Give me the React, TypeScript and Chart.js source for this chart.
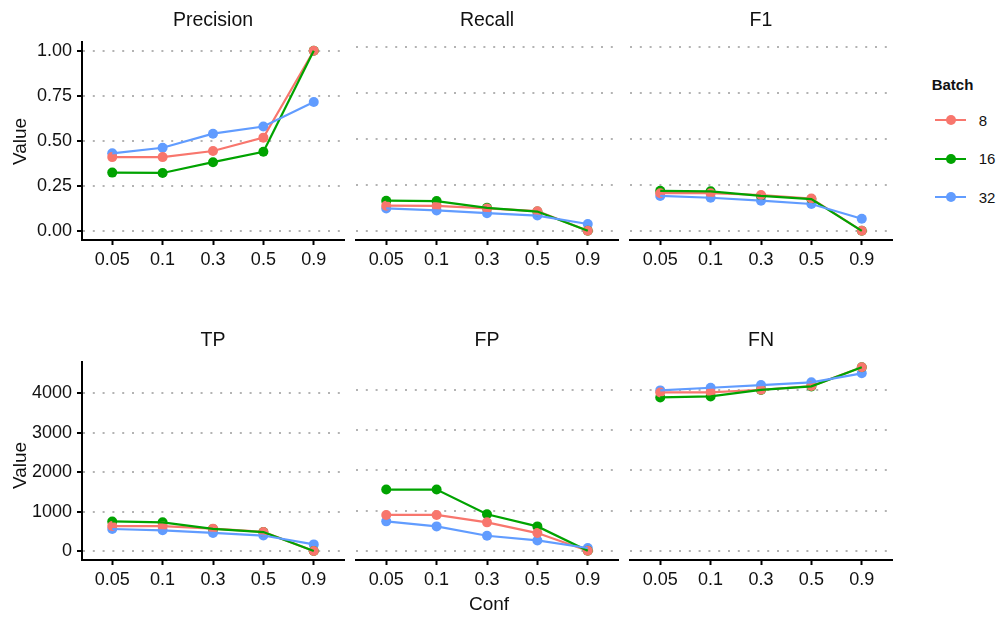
import React, { useEffect, useRef } from "react";
import { Chart, registerables } from "chart.js";
Chart.register(...registerables);

// ---- data ----
const confLabels = ["0.05", "0.1", "0.3", "0.5", "0.9"];
const batches = ["8", "16", "32"];
const batchColors = ["#F8766D", "#00A300", "#619CFF"];

const precision8 = [0.41, 0.41, 0.444, 0.518, 1.0];
const precision16 = [0.324, 0.322, 0.382, 0.44, 1.0];
const precision32 = [0.431, 0.462, 0.54, 0.58, 0.716];

const recall8 = [0.137, 0.136, 0.122, 0.107, 0];
const recall16 = [0.164, 0.162, 0.125, 0.105, 0];
const recall32 = [0.122, 0.111, 0.096, 0.083, 0.037];

const f1_8 = [0.205, 0.205, 0.195, 0.176, 0];
const f1_16 = [0.218, 0.215, 0.19, 0.173, 0];
const f1_32 = [0.19, 0.18, 0.164, 0.146, 0.066];

const tp8 = [633, 630, 567, 483, 0];
const tp16 = [750, 728, 560, 480, 0];
const tp32 = [558, 525, 458, 392, 167];

const fp8 = [892, 892, 708, 442, 0];
const fp16 = [1525, 1525, 908, 608, 0];
const fp32 = [733, 608, 375, 258, 70];

const fn8 = [3942, 3945, 4008, 4100, 4567];
const fn16 = [3817, 3842, 4005, 4092, 4570];
const fn32 = [3992, 4058, 4125, 4192, 4417];

const topTicks = [0, 0.25, 0.5, 0.75, 1];
const bottomTicks = [0, 1000, 2000, 3000, 4000];

// ---- layout ----
const FONT = "'Liberation Sans', Arial, Helvetica, sans-serif";
const TXT = "#111";
const PANEL_LEFT = [82, 356, 630];
const PANEL_TOP = [38, 358];
const PANEL_W = 262;
const PANEL_H = 202;
const PAD_L = 70;
const PAD_T = 12;
const PAD_R = 10;
const X_H = 40;

type PanelDef = {
  title: string;
  series: number[][];
  row: number;
  col: number;
};

const panels: PanelDef[] = [
  { title: "Precision", series: [precision8, precision16, precision32], row: 0, col: 0 },
  { title: "Recall", series: [recall8, recall16, recall32], row: 0, col: 1 },
  { title: "F1", series: [f1_8, f1_16, f1_32], row: 0, col: 2 },
  { title: "TP", series: [tp8, tp16, tp32], row: 1, col: 0 },
  { title: "FP", series: [fp8, fp16, fp32], row: 1, col: 1 },
  { title: "FN", series: [fn8, fn16, fn32], row: 1, col: 2 },
];

function rowMax(row: number) {
  let m = 0;
  panels.filter((p) => p.row === row).forEach((p) => p.series.forEach((s) => s.forEach((v) => (m = Math.max(m, v)))));
  return m;
}

function Panel({ p }: { p: PanelDef }) {
  const ref = useRef<HTMLCanvasElement>(null);
  useEffect(() => {
    const M = rowMax(p.row);
    const yMin = -0.05 * M;
    const yMax = 1.05 * M;
    const yTicks = p.row === 0 ? topTicks : bottomTicks;
    const fmt = (v: number) => (p.row === 0 ? Number(v).toFixed(2) : String(v));
    const lineOrder = [2, 1, 0];
    const pointOrder = [3, 4, 5];
    const datasets: any[] = [];
    p.series.forEach((vals, bi) => {
      const data = vals.map((v, i) => ({ x: i + 1, y: v }));
      datasets.push({
        label: batches[bi] + "-line",
        data,
        borderColor: batchColors[bi],
        borderWidth: 2.2,
        pointRadius: 0,
        showLine: true,
        fill: false,
        tension: 0,
        order: lineOrder[bi],
      });
      datasets.push({
        label: batches[bi],
        data,
        showLine: false,
        pointRadius: 5,
        pointBackgroundColor: batchColors[bi],
        pointBorderColor: batchColors[bi],
        pointBorderWidth: 0,
        order: pointOrder[bi],
      });
    });
    const tickFont = { family: FONT, size: 18 };
    const chart = new Chart(ref.current as HTMLCanvasElement, {
      type: "line",
      data: { datasets },
      options: {
        responsive: false,
        animation: false,
        events: [],
        layout: { padding: { left: p.col === 0 ? 0 : PAD_L, right: PAD_R, top: PAD_T, bottom: 0 } },
        plugins: { legend: { display: false }, tooltip: { enabled: false }, title: { display: false } },
        scales: {
          x: {
            type: "linear",
            min: 0.4,
            max: 5.6,
            afterBuildTicks: (s: any) => {
              s.ticks = confLabels.map((_, i) => ({ value: i + 1 }));
            },
            afterFit: (s: any) => {
              s.height = X_H;
            },
            ticks: {
              callback: (v: any) => confLabels[Math.round(Number(v)) - 1] ?? "",
              font: tickFont,
              color: TXT,
              padding: 4.5,
              maxRotation: 0,
              autoSkip: false,
            },
            grid: { drawOnChartArea: false, drawTicks: true, tickLength: 5, tickColor: "#000", tickWidth: 2 },
            border: { display: true, color: "#000", width: 2 },
          },
          y: {
            type: "linear",
            min: yMin,
            max: yMax,
            afterBuildTicks: (s: any) => {
              s.ticks = yTicks.map((v) => ({ value: v }));
            },
            afterFit: (s: any) => {
              s.width = p.col === 0 ? PAD_L : 0;
            },
            ticks: {
              display: p.col === 0,
              callback: (v: any) => fmt(v),
              font: tickFont,
              color: TXT,
              padding: 5,
            },
            grid: {
              color: "#b3b3b3",
              lineWidth: 2,
              drawTicks: p.col === 0,
              tickLength: 5,
              tickColor: "#000",
              tickWidth: 2,
              tickBorderDash: [],
            },
            border: { display: p.col === 0, color: "#000", width: 2, dash: [2, 7.8] },
          },
        },
      } as any,
    });
    return () => chart.destroy();
  }, []);
  const left = PANEL_LEFT[p.col] - PAD_L;
  const top = PANEL_TOP[p.row] - PAD_T;
  const w = PAD_L + PANEL_W + PAD_R;
  const h = PAD_T + PANEL_H + X_H;
  return (
    <canvas
      ref={ref}
      width={w}
      height={h}
      style={{ position: "absolute", left, top, width: w, height: h }}
    />
  );
}

function Text({ cx, cy, size, bold, children, rotate, align }: any) {
  const w = 200;
  const style: React.CSSProperties = {
    position: "absolute",
    width: w,
    height: size,
    lineHeight: size + "px",
    fontSize: size,
    fontFamily: FONT,
    fontWeight: bold ? "bold" : "normal",
    color: TXT,
    whiteSpace: "nowrap",
    textAlign: align || "center",
    top: cy - 0.4885 * size,
    left: align === "left" ? cx : cx - w / 2,
  };
  if (rotate) {
    style.top = cy - size / 2;
    style.transform = "rotate(-90deg)";
  }
  return <div style={style}>{children}</div>;
}

function Legend() {
  const keyY = [120.3, 158.7, 197.3];
  return (
    <>
      <Text cx={931.7} cy={84} size={15} bold align="left">
        Batch
      </Text>
      {batches.map((b, i) => (
        <React.Fragment key={b}>
          <div
            style={{
              position: "absolute",
              left: 935,
              width: 31,
              top: keyY[i] - 1.1,
              height: 2.2,
              background: batchColors[i],
            }}
          />
          <div
            style={{
              position: "absolute",
              left: 950.5 - 5,
              top: keyY[i] - 5,
              width: 10,
              height: 10,
              borderRadius: "50%",
              background: batchColors[i],
            }}
          />
          <Text cx={978.7} cy={keyY[i]} size={15} align="left">
            {b}
          </Text>
        </React.Fragment>
      ))}
    </>
  );
}

export default function App() {
  return (
    <div style={{ position: "absolute", left: 0, top: 0, width: 999, height: 619, background: "#fff" }}>
      {panels.map((p) => (
        <React.Fragment key={p.title}>
          <Panel p={p} />
          <Text cx={PANEL_LEFT[p.col] + PANEL_W / 2} cy={PANEL_TOP[p.row] - 18} size={19.5}>
            {p.title}
          </Text>
        </React.Fragment>
      ))}
      <Text cx={19} cy={141} size={19} rotate>
        Value
      </Text>
      <Text cx={19} cy={465} size={19} rotate>
        Value
      </Text>
      <Text cx={489} cy={603.7} size={19}>
        Conf
      </Text>
      <Legend />
    </div>
  );
}
